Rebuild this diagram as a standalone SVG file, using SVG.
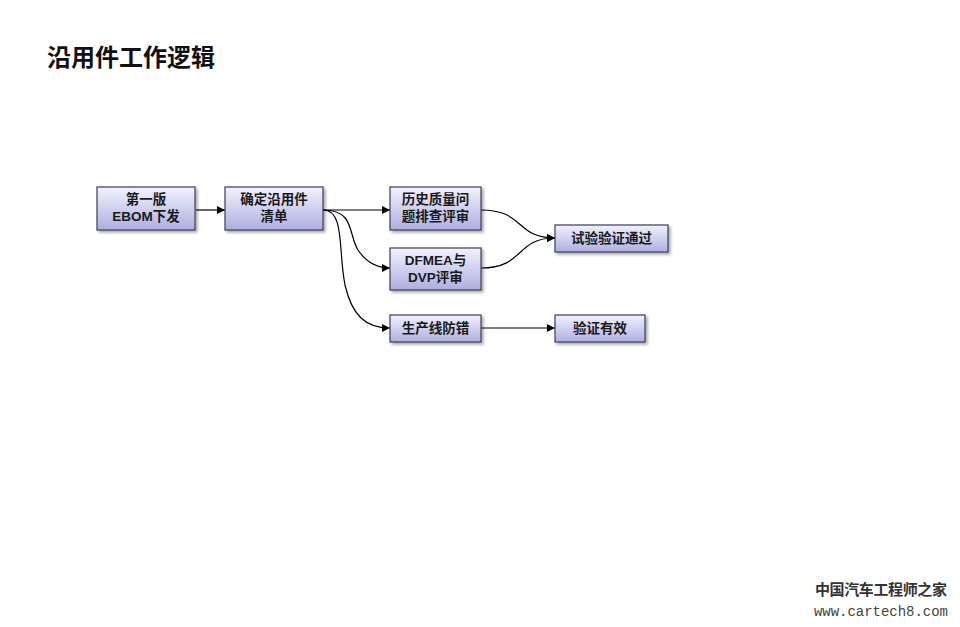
<svg xmlns="http://www.w3.org/2000/svg" width="960" height="627" viewBox="0 0 960 627">
<defs>
<linearGradient id="g" x1="0" y1="0" x2="0" y2="1">
<stop offset="0" stop-color="#f2f2ff"/>
<stop offset="1" stop-color="#aeaee0"/>
</linearGradient>
<filter id="sh" x="-10%" y="-10%" width="130%" height="140%">
<feDropShadow dx="2" dy="2" stdDeviation="1.5" flood-color="#000" flood-opacity="0.35"/>
</filter>
<marker id="ar" viewBox="0 0 10 10" refX="10" refY="5" markerWidth="8" markerHeight="8" markerUnits="userSpaceOnUse" orient="auto">
<path d="M0,0 L10,5 L0,10 z" fill="#000"/>
</marker>
<style>
.box{fill:url(#g);stroke:#3c3c5a;stroke-width:1.2;filter:url(#sh)}
.t{font-family:"Liberation Sans","Noto Sans CJK SC",sans-serif;font-weight:bold;font-size:13.5px;fill:#1a1a1a;text-anchor:middle}
.c{fill:none;stroke:#000;stroke-width:1.2;marker-end:url(#ar)}
</style>
</defs>
<rect width="960" height="627" fill="#fff"/>
<text x="47" y="66" font-family="'Noto Sans CJK SC',sans-serif" font-weight="bold" font-size="24" fill="#111">沿用件工作逻辑</text>
<g id="connectors">
<path class="c" d="M196,210 L225,210"/>
<path class="c" d="M323,210 L390,210"/>
<path class="c" d="M323,210 C355,210 348,234 358,250 C366,262 376,268 390,268"/>
<path class="c" d="M323,210 C345,210 338,250 345,285 C352,315 365,328 390,328"/>
<path class="c" d="M481,210 C525,210 515,238 555,238"/>
<path class="c" d="M481,268 C525,268 515,238 555,238"/>
<path class="c" d="M481,328 L555,328"/>
</g>
<g id="n1"><rect class="box" x="97" y="187" width="98" height="43"/><text class="t" x="146" y="204">第一版</text><text class="t" x="146" y="221">EBOM下发</text></g>
<g id="n2"><rect class="box" x="225" y="187" width="98" height="43"/><text class="t" x="274" y="204">确定沿用件</text><text class="t" x="274" y="221">清单</text></g>
<g id="n3"><rect class="box" x="390" y="187" width="91" height="43"/><text class="t" x="435.5" y="204">历史质量问</text><text class="t" x="435.5" y="221">题排查评审</text></g>
<g id="n4"><rect class="box" x="390" y="248" width="91" height="42"/><text class="t" x="435.5" y="265">DFMEA与</text><text class="t" x="435.5" y="282">DVP评审</text></g>
<g id="n5"><rect class="box" x="390" y="315" width="91" height="27"/><text class="t" x="435.5" y="333">生产线防错</text></g>
<g id="n6"><rect class="box" x="555" y="225" width="113" height="27"/><text class="t" x="611.5" y="243">试验验证通过</text></g>
<g id="n7"><rect class="box" x="555" y="315" width="90" height="27"/><text class="t" x="600" y="333">验证有效</text></g>
<text x="815" y="595" font-family="'Noto Sans CJK SC',sans-serif" font-weight="bold" font-size="15" fill="#333" textLength="132">中国汽车工程师之家</text>
<text x="814" y="616" font-family="'Liberation Mono',monospace" font-size="14" fill="#444" textLength="134">www.cartech8.com</text>
</svg>
